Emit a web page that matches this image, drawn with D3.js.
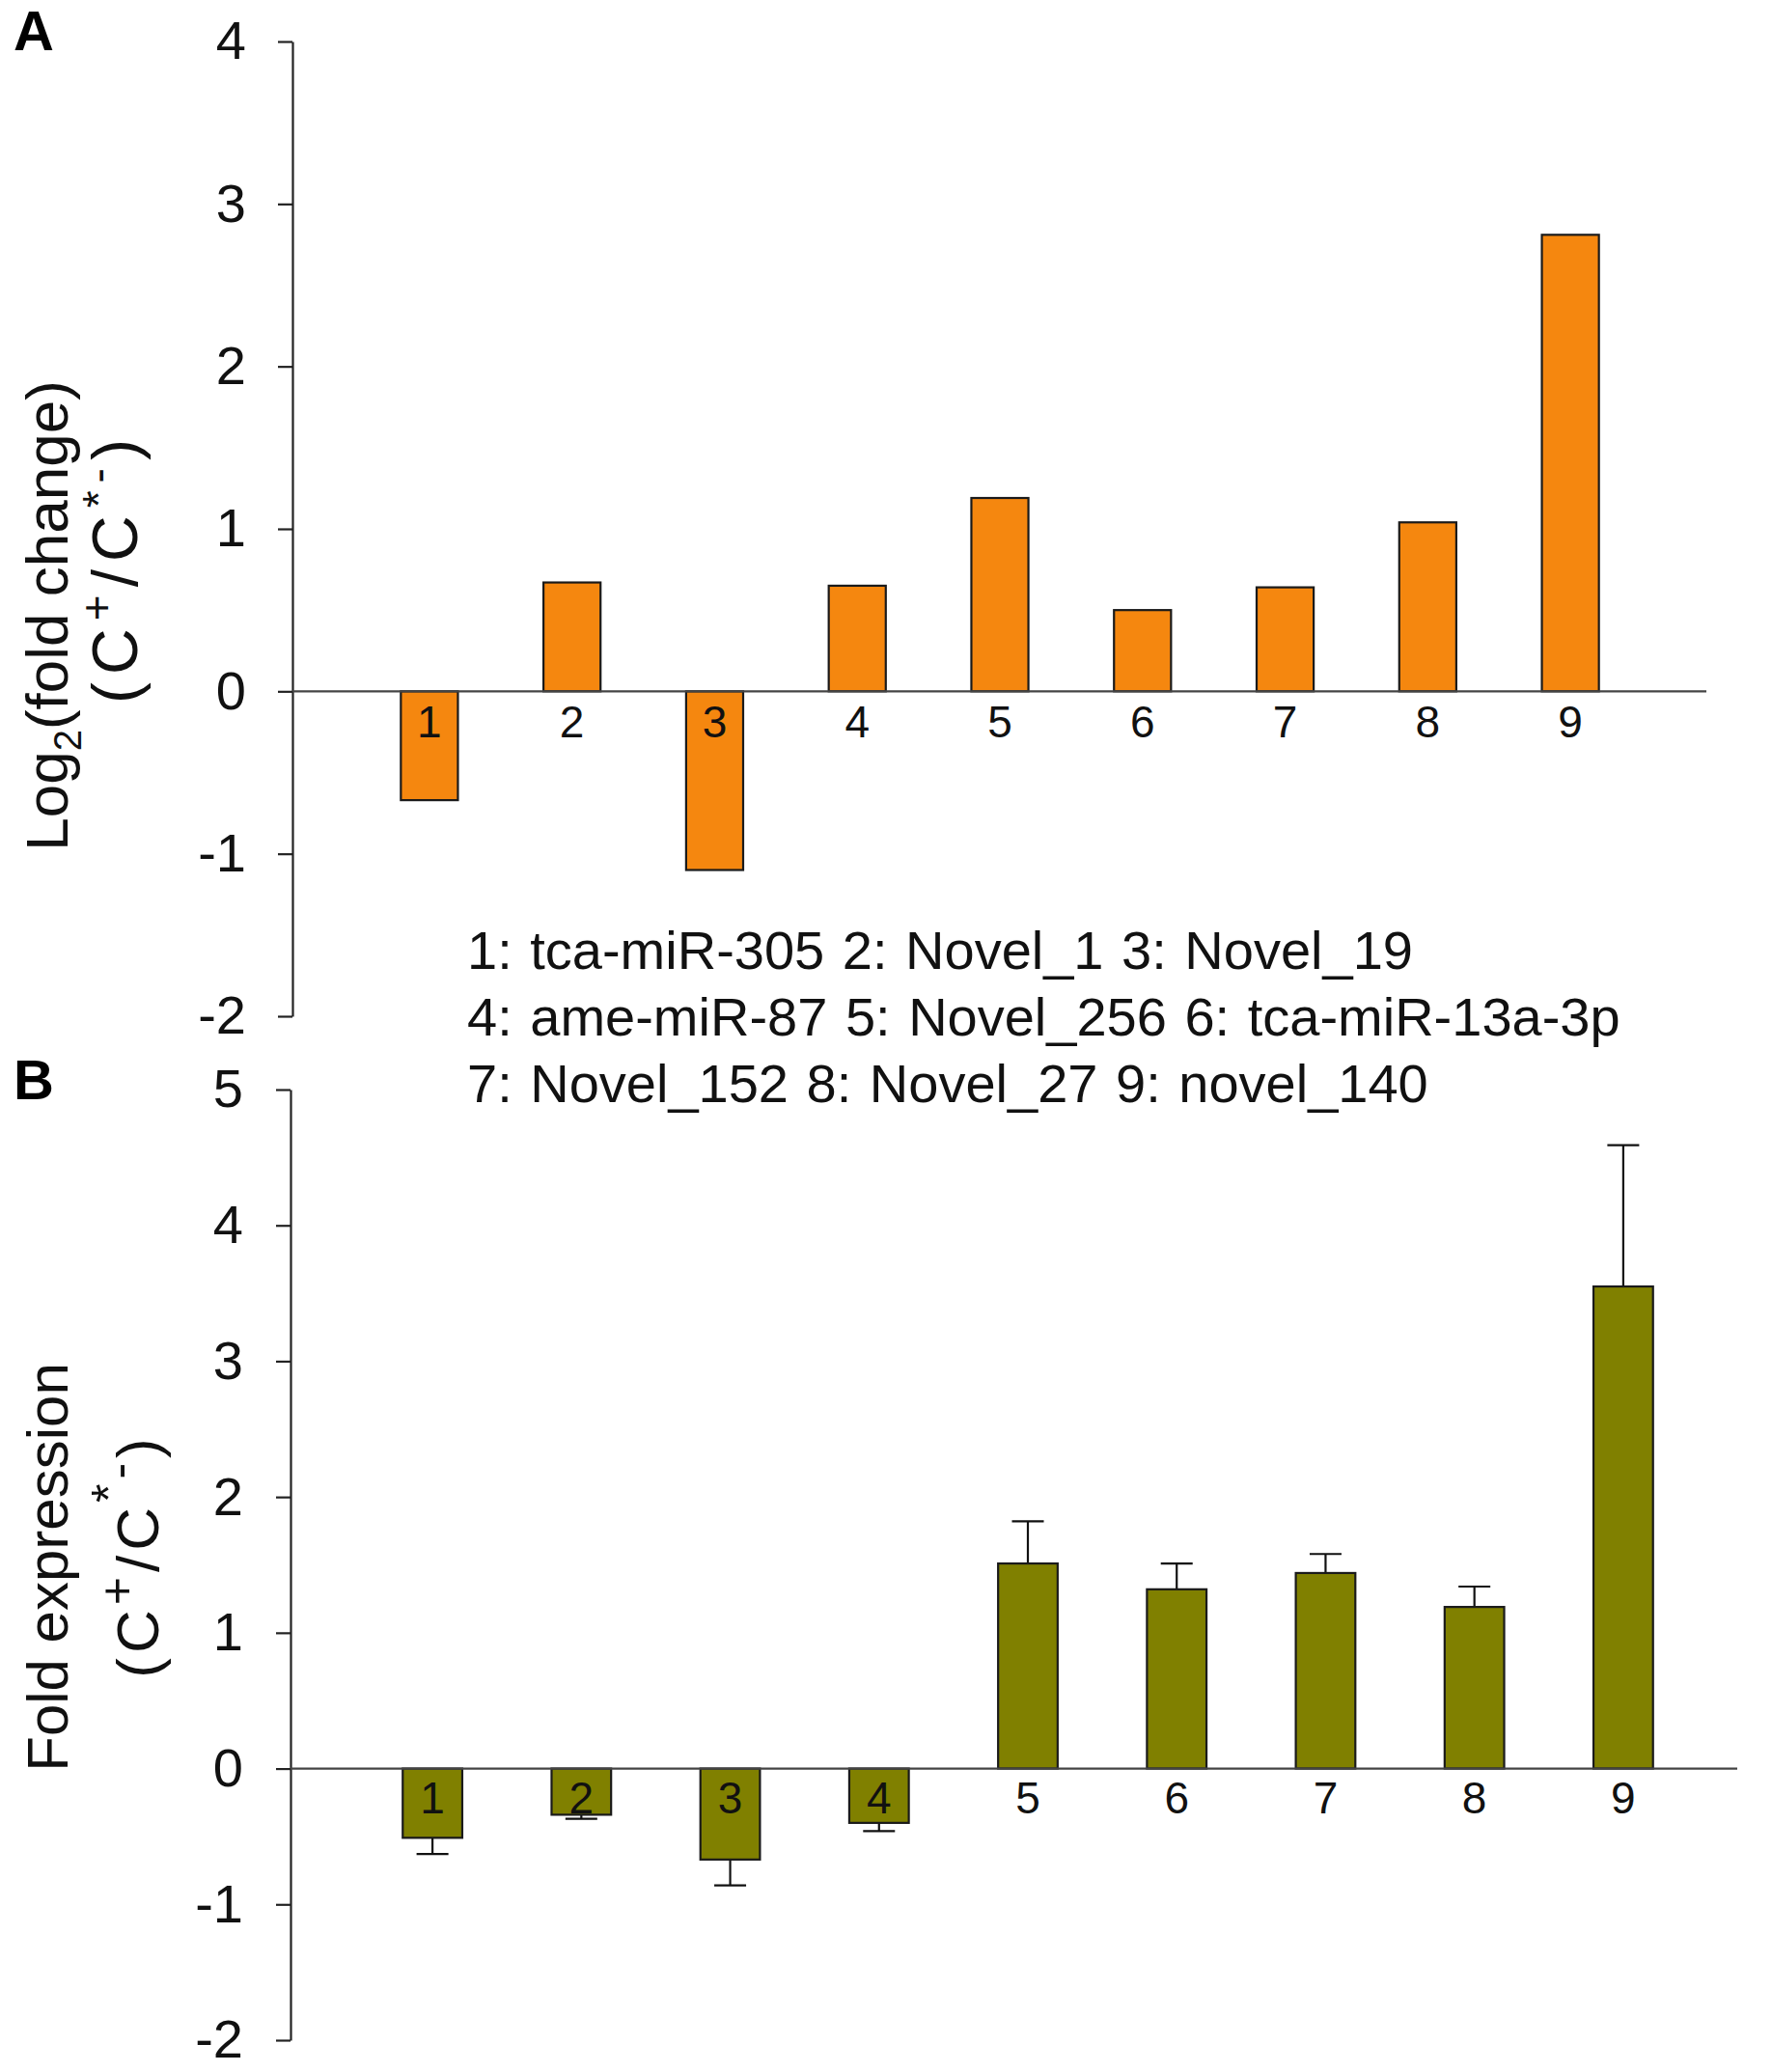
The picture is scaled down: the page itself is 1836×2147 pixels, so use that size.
<!DOCTYPE html>
<html>
<head>
<meta charset="utf-8">
<script src="https://cdn.jsdelivr.net/npm/d3@7"></script>
<style>
  body { margin: 0; background: #fff; }
  svg { display: block; font-family: "Liberation Sans", Arial, sans-serif; }
</style>
</head>
<body>
<svg width="1836" height="2147"></svg>
<script>
var svg = d3.select("svg");

// data
var ids = ["1", "2", "3", "4", "5", "6", "7", "8", "9"];
var names = ["tca-miR-305", "Novel_1", "Novel_19", "ame-miR-87", "Novel_256",
             "tca-miR-13a-3p", "Novel_152", "Novel_27", "novel_140"];
var log2Fold = [-0.67, 0.67, -1.10, 0.65, 1.19, 0.50, 0.64, 1.04, 2.81];
var foldExpr = [-0.51, -0.34, -0.67, -0.40, 1.51, 1.32, 1.44, 1.19, 3.55];
var foldErr = [0.12, 0.03, 0.19, 0.06, 0.31, 0.19, 0.14, 0.15, 1.04];
var ticksA = [-2, -1, 0, 1, 2, 3, 4];
var ticksB = [-2, -1, 0, 1, 2, 3, 4, 5];

var orange = "#f5870f";
var olive = "#808000";
var plainFormat = function(d) { return String(d); }; // hyphen, not unicode minus

// ---------- panel A ----------
var xA = d3.scaleBand().domain(ids).range([371, 1701]).paddingInner(0.6).paddingOuter(0.3);
var yA = d3.scaleLinear().domain([-2, 4]).range([1053, 43]);
var axA = 303;

var gA = svg.append("g");

gA.append("g")
  .attr("transform", "translate(" + axA + ",0)")
  .call(d3.axisLeft(yA).tickValues(ticksA).tickSize(15).tickSizeOuter(0).tickPadding(33).tickFormat(plainFormat))
  .call(function(g) {
    g.selectAll("path, line").attr("stroke", "#222").attr("stroke-width", 2.2);
    g.selectAll("text").attr("font-size", 56).attr("fill", "#111").attr("font-family", "Liberation Sans, Arial, sans-serif");
  });

gA.selectAll("rect.bar")
  .data(log2Fold)
  .enter().append("rect")
  .attr("class", "bar")
  .attr("x", function(d, i) { return xA(ids[i]); })
  .attr("width", xA.bandwidth())
  .attr("y", function(d) { return yA(Math.max(0, d)); })
  .attr("height", function(d) { return Math.abs(yA(d) - yA(0)); })
  .attr("fill", orange)
  .attr("stroke", "#1a1a1a")
  .attr("stroke-width", 2.2);

gA.append("line")
  .attr("x1", axA).attr("x2", 1768)
  .attr("y1", yA(0)).attr("y2", yA(0))
  .attr("stroke", "#444").attr("stroke-width", 2.2);

gA.selectAll("text.num")
  .data(ids)
  .enter().append("text")
  .attr("class", "num")
  .attr("x", function(d) { return xA(d) + xA.bandwidth() / 2; })
  .attr("y", yA(0) + 48)
  .attr("text-anchor", "middle")
  .attr("font-size", 46)
  .attr("fill", "#111")
  .text(function(d) { return d; });

// legend of miRNA names, three per line
var legendLines = [0, 3, 6].map(function(s) {
  return d3.range(s, s + 3).map(function(i) { return ids[i] + ": " + names[i]; }).join(" ");
});
svg.selectAll("text.leg")
  .data(legendLines)
  .enter().append("text")
  .attr("class", "leg")
  .attr("x", 484)
  .attr("y", function(d, i) { return 1004 + i * 69; })
  .attr("font-size", 56)
  .attr("word-spacing", 3)
  .attr("fill", "#111")
  .text(function(d) { return d; });

// "(C+/C*-)" with raised marks
function ratioLabel(sel, sup, lift, starLift) {
  sel.append("tspan").text("(C");
  sel.append("tspan").attr("font-size", sup).attr("dy", -lift).text("+");
  sel.append("tspan").attr("dy", lift).text("/C");
  sel.append("tspan").attr("font-size", sup).attr("dy", -starLift).text("*");
  sel.append("tspan").attr("font-size", sup).attr("dy", starLift - lift + 2).text("-");
  sel.append("tspan").attr("dy", lift - 2).text(")");
}

// y title A
var tA = svg.append("g").attr("transform", "rotate(-90)");
var l1 = tA.append("text").attr("x", -638).attr("y", 70).attr("text-anchor", "middle")
  .attr("font-size", 62).attr("fill", "#111");
l1.append("tspan").text("Log");
l1.append("tspan").attr("font-size", 40).attr("dy", 14).text("2");
l1.append("tspan").attr("dy", -14).text("(fold change)");

var l2 = tA.append("text").attr("x", -588).attr("y", 142).attr("text-anchor", "middle")
  .attr("font-size", 66).attr("letter-spacing", 8).attr("fill", "#111");
ratioLabel(l2, 46, 26, 24);

svg.append("text").attr("x", 14).attr("y", 52).attr("font-size", 58).attr("font-weight", "bold")
  .attr("fill", "#000").text("A");

// ---------- panel B ----------
var xB = d3.scaleBand().domain(ids).range([371, 1759]).paddingInner(0.6).paddingOuter(0.3);
var yB = d3.scaleLinear().domain([-2, 5]).range([2114, 1129]);
var axB = 301;

var gB = svg.append("g");

gB.append("g")
  .attr("transform", "translate(" + axB + ",0)")
  .call(d3.axisLeft(yB).tickValues(ticksB).tickSize(15).tickSizeOuter(0).tickPadding(34).tickFormat(plainFormat))
  .call(function(g) {
    g.selectAll("path, line").attr("stroke", "#222").attr("stroke-width", 2.2);
    g.selectAll("text").attr("font-size", 56).attr("fill", "#111").attr("font-family", "Liberation Sans, Arial, sans-serif");
  });

// error bars go away from zero
gB.selectAll("line.err")
  .data(foldExpr)
  .enter().append("line")
  .attr("class", "err")
  .attr("x1", function(d, i) { return xB(ids[i]) + xB.bandwidth() / 2; })
  .attr("x2", function(d, i) { return xB(ids[i]) + xB.bandwidth() / 2; })
  .attr("y1", function(d) { return yB(d); })
  .attr("y2", function(d, i) { return yB(d + Math.sign(d) * foldErr[i]); })
  .attr("stroke", "#111").attr("stroke-width", 2.2);

gB.selectAll("line.cap")
  .data(foldExpr)
  .enter().append("line")
  .attr("class", "cap")
  .attr("x1", function(d, i) { return xB(ids[i]) + xB.bandwidth() / 2 - 16.5; })
  .attr("x2", function(d, i) { return xB(ids[i]) + xB.bandwidth() / 2 + 16.5; })
  .attr("y1", function(d, i) { return yB(d + Math.sign(d) * foldErr[i]); })
  .attr("y2", function(d, i) { return yB(d + Math.sign(d) * foldErr[i]); })
  .attr("stroke", "#111").attr("stroke-width", 2.2);

gB.selectAll("rect.bar")
  .data(foldExpr)
  .enter().append("rect")
  .attr("class", "bar")
  .attr("x", function(d, i) { return xB(ids[i]); })
  .attr("width", xB.bandwidth())
  .attr("y", function(d) { return yB(Math.max(0, d)); })
  .attr("height", function(d) { return Math.abs(yB(d) - yB(0)); })
  .attr("fill", olive)
  .attr("stroke", "#1a1a1a")
  .attr("stroke-width", 2.2);

gB.append("line")
  .attr("x1", axB).attr("x2", 1800)
  .attr("y1", yB(0)).attr("y2", yB(0))
  .attr("stroke", "#444").attr("stroke-width", 2.2);

gB.selectAll("text.num")
  .data(ids)
  .enter().append("text")
  .attr("class", "num")
  .attr("x", function(d) { return xB(d) + xB.bandwidth() / 2; })
  .attr("y", yB(0) + 46)
  .attr("text-anchor", "middle")
  .attr("font-size", 46)
  .attr("fill", "#111")
  .text(function(d) { return d; });

// y title B
var tB = svg.append("g").attr("transform", "rotate(-90)");
tB.append("text").attr("x", -1624).attr("y", 70).attr("text-anchor", "middle")
  .attr("font-size", 60).attr("fill", "#111").text("Fold expression");
var l2b = tB.append("text").attr("x", -1612).attr("y", 164).attr("text-anchor", "middle")
  .attr("font-size", 62).attr("letter-spacing", 5).attr("fill", "#111");
ratioLabel(l2b, 50, 26, 34);

svg.append("text").attr("x", 14).attr("y", 1139).attr("font-size", 58).attr("font-weight", "bold")
  .attr("fill", "#000").text("B");
</script>
</body>
</html>
